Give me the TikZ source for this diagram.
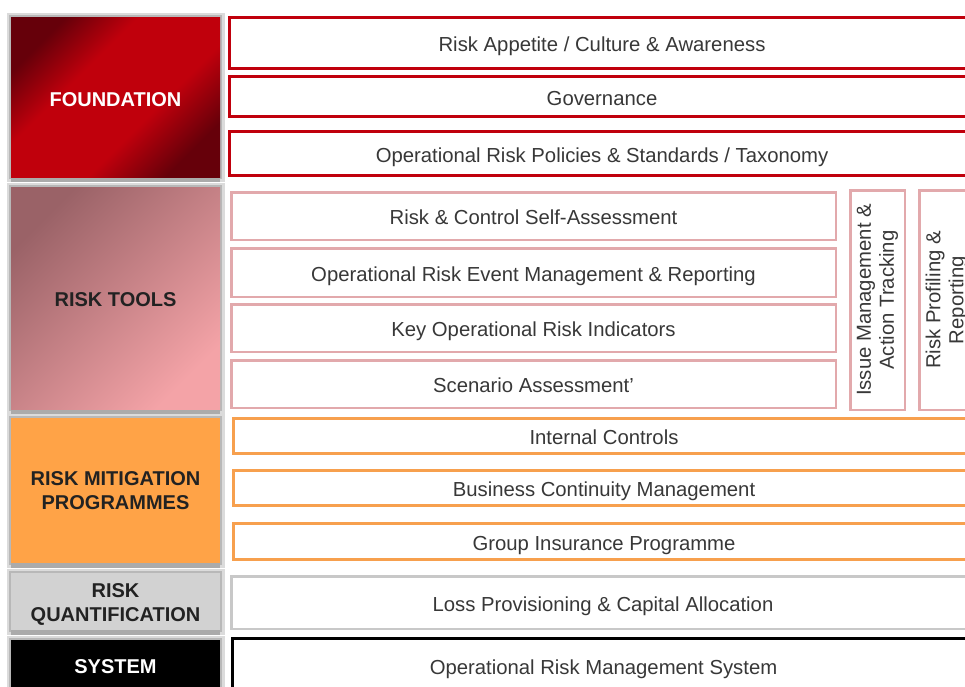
\documentclass[tikz,border=0pt]{standalone}
\usepackage{fontspec}
\setmainfont{Liberation Sans}
\definecolor{fdark}{HTML}{66000A}
\definecolor{fred}{HTML}{C0000C}
\definecolor{tdark}{HTML}{9A6267}
\definecolor{tlight}{HTML}{F4A3A7}
\definecolor{mitor}{HTML}{FFA347}
\definecolor{quantgr}{HTML}{D2D2D2}
\definecolor{pinkline}{HTML}{E2A9AC}
\definecolor{orline}{HTML}{F7A04E}
\definecolor{grline}{HTML}{C8C8C8}
\definecolor{txt}{HTML}{383838}
\definecolor{lbl}{HTML}{222222}
\pgfdeclareverticalshading{foundshade}{100bp}{color(0bp)=(fdark); color(25bp)=(fdark); color(40bp)=(fred); color(61bp)=(fred); color(75bp)=(fdark); color(100bp)=(fdark)}
\begin{document}
\begin{tikzpicture}[x=1pt,y=-1pt,
  band/.style={draw, fill=white, text=txt, inner sep=0pt, anchor=center,
    font=\fontsize{20.3}{23}\selectfont},
  hband/.style={band, text height=17pt, text depth=0pt},
  redband/.style={hband, draw=fred, line width=3pt},
  pinkband/.style={hband, draw=pinkline, line width=2.5pt},
  orband/.style={hband, draw=orline, line width=3pt},
  greyband/.style={hband, draw=grline, line width=2.5pt},
  blackband/.style={hband, draw=black, line width=3pt},
  sideband/.style={band, draw=pinkline, line width=2.5pt, rotate=90, align=center},
  layer/.style={inner sep=0pt, anchor=center, minimum width=209pt,
    preaction={draw=black!14, line width=9pt},
    preaction={draw=black!28, line width=4.5pt},
    preaction={fill=black!33, transform canvas={yshift=-5pt}}},
  layertext/.style={inner sep=0pt, anchor=center, align=center,
    font=\bfseries\fontsize{20}{23.5}\selectfont},
]
\useasboundingbox (0,0) rectangle (965,686);
\clip (0,0) rectangle (965,686);
\fill[white] (0,0) rectangle (965,686);

% left-hand column of layers
\node[layer, minimum height=160pt, shading=foundshade, shading angle=45] (found) at (115.5,97) {};
\node[layer, minimum height=222pt, top color=tdark, bottom color=tlight, shading angle=45] (tools) at (115.5,298) {};
\node[layer, minimum height=145pt, fill=mitor] (mitig) at (115.5,490.5) {};
\node[layer, minimum height=57pt, fill=quantgr] (quant) at (115.5,601.5) {};
\node[layer, minimum height=62pt, fill=black] (sysl) at (115.5,671) {};

\node[layertext, text=white] (foundlabel) at (found.center |- 0,99.5) {FOUNDATION};
\node[layertext, text=lbl] (toolslabel) at (tools.center |- 0,299.5) {RISK TOOLS};
\node[layertext, text=lbl] (mitiglabel) at (mitig.center |- 0,490.5) {RISK MITIGATION\\PROGRAMMES};
\node[layertext, text=lbl] (quantlabel) at (quant.center |- 0,604.5) {RISK\\QUANTIFICATION};
\node[layertext, text=white] (syslabel) at (sysl.center |- 0,666.5) {SYSTEM};

% foundation components
\node[redband, minimum width=745pt, minimum height=51pt] (appetite) at (602,43)
  {Risk Appetite / Culture \& Awareness};
\node[redband, minimum width=745pt, minimum height=40pt] (gov) at (602,96.5)
  {Governance};
\node[redband, minimum width=745pt, minimum height=44pt] (policy) at (602,153.5)
  {Operational Risk Policies \& Standards / Taxonomy};

% risk tools
\node[pinkband, minimum width=604.5pt, minimum height=47.5pt] (rcsa) at (533.5,216)
  {Risk \& Control Self-Assessment};
\node[pinkband, minimum width=604.5pt, minimum height=48.5pt] (event) at (533.5,272.5)
  {Operational Risk Event Management \& Reporting};
\node[pinkband, minimum width=604.5pt, minimum height=47.5pt] (kri) at (533.5,328)
  {Key Operational Risk Indicators};
\node[pinkband, minimum width=604.5pt, minimum height=47.5pt] (scen) at (533.5,384)
  {Scenario Assessment'};
\node[sideband, minimum width=219.5pt, minimum height=54.5pt] (issue) at (877.5,300)
  {Issue Management \&\\Action Tracking};
\node[sideband, minimum width=219.5pt, minimum height=54.5pt] (profile) at (946.5,300)
  {Risk Profiling \&\\Reporting};

% mitigation programmes
\node[orband, minimum width=741pt, minimum height=35pt] (ctrl) at (604,436)
  {Internal Controls};
\node[orband, minimum width=741pt, minimum height=35pt] (bcm) at (604,488)
  {Business Continuity Management};
\node[orband, minimum width=741pt, minimum height=36pt] (ins) at (604,541.5)
  {Group Insurance Programme};

% quantification and system
\node[greyband, minimum width=743.5pt, minimum height=52.5pt] (loss) at (603,602.5)
  {Loss Provisioning \& Capital Allocation};
\node[blackband, minimum width=743pt, minimum height=54pt] (orms) at (603.5,665.5)
  {Operational Risk Management System};
\end{tikzpicture}
\end{document}
